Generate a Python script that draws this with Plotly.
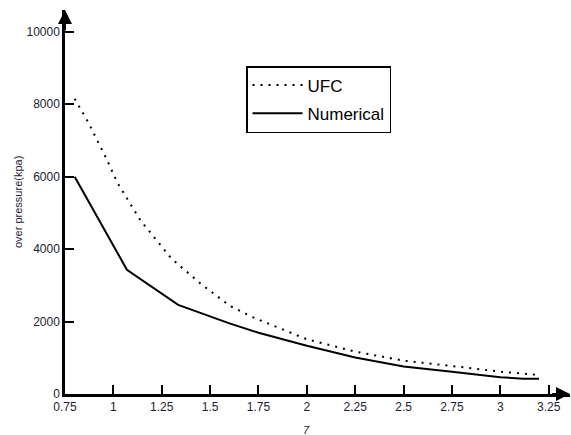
import plotly.graph_objects as go

# UFC (dotted) series
ufc_x = [0.8, 0.87, 0.97, 1.02, 1.14, 1.3, 1.45, 1.6, 1.72, 2.0, 2.25, 2.5, 2.75, 3.0, 3.2]
ufc_y = [8150, 7500, 6430, 5840, 4790, 3740, 3050, 2440, 2120, 1510, 1170, 920, 773, 616, 525]

# Numerical (solid) series
num_x = [0.8, 1.07, 1.335, 1.6, 1.75, 2.0, 2.25, 2.5, 2.75, 3.0, 3.12, 3.2]
num_y = [6000, 3430, 2460, 1950, 1690, 1330, 1010, 760, 616, 465, 420, 418]

x_ticks = [0.75, 1, 1.25, 1.5, 1.75, 2, 2.25, 2.5, 2.75, 3, 3.25]
x_tick_labels = ["0.75", "1", "1.25", "1.5", "1.75", "2", "2.25", "2.5", "2.75", "3", "3.25"]
y_ticks = [0, 2000, 4000, 6000, 8000, 10000]
y_tick_labels = ["0", "2000", "4000", "6000", "8000", "10000"]

x_title = "7"
y_title = "over pressure(kpa)"

X_MIN, X_MAX = 0.75, 3.36
Y_MIN, Y_MAX = 0, 10600

FONT = "Arial, Liberation Sans, sans-serif"

fig = go.Figure()
fig.add_trace(go.Scatter(x=ufc_x, y=ufc_y, mode="lines", name="UFC", legendgroup="a",
                         line=dict(color="black", width=2, dash="2px,6px")))
fig.add_trace(go.Scatter(x=num_x, y=num_y, mode="lines", name="Numerical", legendgroup="b",
                         line=dict(color="black", width=2)))

axis_font = dict(family=FONT, size=12, color="#1c1c30")

fig.update_xaxes(range=[X_MIN, X_MAX], tickvals=x_ticks, ticktext=x_tick_labels,
                 ticks="inside", ticklen=9, tickwidth=2, tickcolor="black",
                 showline=True, linecolor="black", linewidth=2.5,
                 showgrid=False, zeroline=False, tickfont=axis_font, automargin=False)
fig.update_yaxes(range=[Y_MIN, Y_MAX], tickvals=y_ticks, ticktext=y_tick_labels,
                 ticks="inside", ticklen=9, tickwidth=2, tickcolor="black",
                 showline=True, linecolor="black", linewidth=2.5,
                 showgrid=False, zeroline=False, tickfont=axis_font, automargin=False)

# Axis arrowheads
fig.add_annotation(x=X_MAX, y=0, ax=X_MAX - 0.1, ay=0, xref="x", yref="y",
                   axref="x", ayref="y", showarrow=True, arrowhead=2, arrowsize=1.4,
                   arrowwidth=2, arrowcolor="black", text="")
fig.add_annotation(x=X_MIN, y=Y_MAX, ax=X_MIN, ay=Y_MAX - 600, xref="x", yref="y",
                   axref="x", ayref="y", showarrow=True, arrowhead=2, arrowsize=1.4,
                   arrowwidth=2, arrowcolor="black", text="")

# axis titles
fig.add_annotation(x=2, y=0, xref="x", yref="paper", yshift=-36, yanchor="middle",
                   showarrow=False, text="<i>" + x_title + "</i>",
                   font=dict(family=FONT, size=11, color="#1c1c30"))
fig.add_annotation(x=0, y=0.5, xref="paper", yref="paper", xshift=-47,
                   xanchor="center", yanchor="middle", textangle=-90,
                   showarrow=False, text=y_title,
                   font=dict(family=FONT, size=11, color="#1c1c30"))

fig.update_layout(
    width=571, height=435,
    margin=dict(l=65, r=1, t=10, b=41),
    plot_bgcolor="white", paper_bgcolor="white",
    showlegend=True,
    legend=dict(x=(246 - 65) / 505, y=(394 - 66) / 384, xanchor="left", yanchor="top",
                bgcolor="white", bordercolor="black", borderwidth=1.5,
                font=dict(family=FONT, size=17, color="black"),
                traceorder="grouped", tracegroupgap=3, itemwidth=50),
)

fig.write_html("out.html", config={"displayModeBar": False},
               post_script="document.body.style.margin='0';")
